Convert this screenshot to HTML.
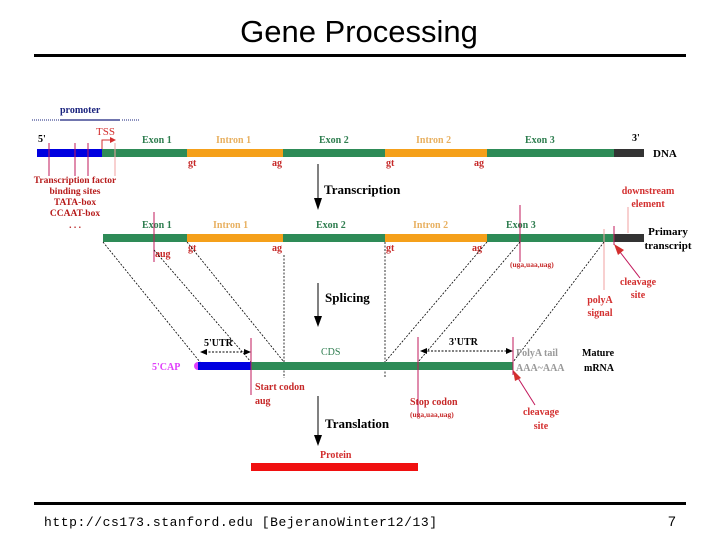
<!DOCTYPE html>
<html><head><style>
body{margin:0;background:#fff;}
svg text{font-family:"Liberation Serif",serif;font-weight:bold;}
</style></head><body>
<svg width="720" height="540" viewBox="0 0 720 540" xmlns="http://www.w3.org/2000/svg">
<text x="359" y="42" text-anchor="middle" style="font-family:'Liberation Sans',sans-serif;font-weight:normal" font-size="31">Gene Processing</text>
<rect x="34" y="54" width="652" height="3" fill="#000"/>
<rect x="34" y="502" width="652" height="3" fill="#000"/>
<text x="44" y="526" style="font-family:'Liberation Mono',monospace;font-weight:normal" font-size="13" textLength="393" lengthAdjust="spacing">http://cs173.stanford.edu [BejeranoWinter12/13]</text>
<text x="668" y="526" style="font-family:'Liberation Sans',sans-serif;font-weight:normal" font-size="14">7</text>

<!-- promoter -->
<text x="60" y="113" fill="#1a237e" font-size="10">promoter</text>
<line x1="32" y1="120" x2="60" y2="120" stroke="#1a237e" stroke-dasharray="1,1"/>
<line x1="60" y1="120" x2="120" y2="120" stroke="#1a237e" stroke-width="1.2"/>
<line x1="122" y1="120" x2="140" y2="120" stroke="#1a237e" stroke-dasharray="1,1"/>
<text x="38" y="142" font-size="10">5'</text>
<text x="96" y="135" fill="#d32f2f" font-size="11" style="font-weight:normal">TSS</text>
<path d="M102 149 V140 H110" stroke="#d32f2f" fill="none"/>
<path d="M110 137 L116 140 L110 143Z" fill="#d32f2f"/>

<!-- DNA bar -->
<g>
<rect x="37" y="149" width="65" height="8" fill="#0000e0"/>
<rect x="102" y="149" width="85" height="8" fill="#2e8b57"/>
<rect x="187" y="149" width="96" height="8" fill="#f5a01a"/>
<rect x="283" y="149" width="102" height="8" fill="#2e8b57"/>
<rect x="385" y="149" width="102" height="8" fill="#f5a01a"/>
<rect x="487" y="149" width="127" height="8" fill="#2e8b57"/>
<rect x="614" y="149" width="30" height="8" fill="#333"/>
</g>
<g stroke="#c2185b" stroke-width="1">
<line x1="49" y1="143" x2="49" y2="176"/><line x1="75" y1="143" x2="75" y2="176"/><line x1="88" y1="143" x2="88" y2="176"/><line x1="115" y1="143" x2="115" y2="176" stroke="#f0a0a0"/>
</g>
<g font-size="10" fill="#2e7d4f"><text x="142" y="143">Exon 1</text><text x="319" y="143">Exon 2</text><text x="525" y="143">Exon 3</text></g>
<g font-size="10" fill="#e8b060"><text x="216" y="143">Intron 1</text><text x="416" y="143">Intron 2</text></g>
<g font-size="10" fill="#c62828"><text x="188" y="166">gt</text><text x="272" y="166">ag</text><text x="386" y="166">gt</text><text x="474" y="166">ag</text></g>
<text x="632" y="141" font-size="10">3'</text>
<text x="653" y="157" font-size="11">DNA</text>
<g font-size="9.5" fill="#b71c1c" text-anchor="middle"><text x="75" y="183">Transcription factor</text><text x="75" y="194">binding sites</text><text x="75" y="205">TATA-box</text><text x="75" y="216">CCAAT-box</text><text x="75" y="228">. . .</text></g>

<!-- transcription arrow -->
<line x1="318" y1="164" x2="318" y2="200" stroke="#000"/>
<path d="M314 198 L318 210 L322 198Z" fill="#000"/>
<text x="324" y="194" font-size="13">Transcription</text>
<g font-size="10" fill="#d32f2f" text-anchor="middle"><text x="648" y="194">downstream</text><text x="648" y="207">element</text></g>
<line x1="628" y1="207" x2="628" y2="233" stroke="#f0a0a0"/>

<!-- primary transcript -->
<rect x="103" y="234" width="84" height="8" fill="#2e8b57"/>
<rect x="187" y="234" width="96" height="8" fill="#f5a01a"/>
<rect x="283" y="234" width="102" height="8" fill="#2e8b57"/>
<rect x="385" y="234" width="102" height="8" fill="#f5a01a"/>
<rect x="487" y="234" width="127" height="8" fill="#2e8b57"/>
<rect x="614" y="234" width="30" height="8" fill="#333"/>
<g font-size="10" fill="#2e7d4f"><text x="142" y="228">Exon 1</text><text x="316" y="228">Exon 2</text><text x="506" y="228">Exon 3</text></g>
<g font-size="10" fill="#e8b060"><text x="213" y="228">Intron 1</text><text x="413" y="228">Intron 2</text></g>
<g font-size="10" fill="#c62828"><text x="188" y="251">gt</text><text x="272" y="251">ag</text><text x="386" y="251">gt</text><text x="472" y="251">ag</text><text x="155" y="257">aug</text></g>
<text x="510" y="267" font-size="7.5" fill="#c62828">(uga,uaa,uag)</text>
<line x1="154" y1="212" x2="154" y2="262" stroke="#c2185b"/>
<line x1="520" y1="205" x2="520" y2="262" stroke="#c2185b"/>
<line x1="604" y1="229" x2="604" y2="290" stroke="#f0a0a0"/>
<line x1="614" y1="226" x2="614" y2="245" stroke="#c2185b"/>
<text x="668" y="235" font-size="11" text-anchor="middle">Primary</text>
<text x="668" y="249" font-size="11" text-anchor="middle">transcript</text>
<line x1="640" y1="278" x2="620" y2="252" stroke="#c2185b"/>
<path d="M614 244 L624 250 L618 255Z" fill="#d32f2f"/>
<g font-size="10" fill="#d32f2f" text-anchor="middle"><text x="638" y="285">cleavage</text><text x="638" y="298">site</text><text x="600" y="303">polyA</text><text x="600" y="316">signal</text></g>

<!-- dashed connectors -->
<g stroke="#000" stroke-width="0.8" stroke-dasharray="2,1.5" fill="none">
<line x1="103" y1="242" x2="200" y2="362"/>
<line x1="154" y1="250" x2="251" y2="362"/>
<line x1="187" y1="242" x2="284" y2="362"/>
<line x1="284" y1="255" x2="284" y2="378"/>
<line x1="385" y1="242" x2="385" y2="378"/>
<line x1="487" y1="242" x2="385" y2="362"/>
<line x1="520" y1="242" x2="418" y2="362"/>
<line x1="604" y1="242" x2="513" y2="362"/>
</g>

<!-- splicing -->
<line x1="318" y1="283" x2="318" y2="318" stroke="#000"/>
<path d="M314 316 L318 327 L322 316Z" fill="#000"/>
<text x="325" y="302" font-size="13">Splicing</text>

<!-- mRNA -->
<circle cx="198" cy="366" r="4" fill="#e040fb"/>
<rect x="198" y="362" width="53" height="8" fill="#0000e0"/>
<rect x="251" y="362" width="262" height="8" fill="#2e8b57"/>
<text x="152" y="370" font-size="10" fill="#e040fb">5'CAP</text>
<text x="321" y="355" font-size="10" fill="#2e7d4f" style="font-weight:normal">CDS</text>
<text x="204" y="346" font-size="10">5'UTR</text>
<text x="449" y="345" font-size="10">3'UTR</text>
<g stroke="#000" stroke-dasharray="2,1.5"><line x1="205" y1="352" x2="249" y2="352"/><line x1="424" y1="351" x2="510" y2="351"/></g>
<path d="M200 352 L207 349 L207 355Z M251 352 L244 349 L244 355Z M420 351 L427 348 L427 354Z M513 351 L506 348 L506 354Z" fill="#000"/>
<line x1="251" y1="338" x2="251" y2="395" stroke="#c2185b"/>
<line x1="418" y1="337" x2="418" y2="417" stroke="#c2185b"/>
<line x1="513" y1="337" x2="513" y2="375" stroke="#c2185b"/>
<g font-size="10" fill="#999" style="font-weight:normal"><text x="516" y="356">PolyA tail</text><text x="516" y="371">AAA~AAA</text></g>
<text x="582" y="356" font-size="10">Mature</text>
<text x="584" y="371" font-size="10">mRNA</text>
<g font-size="10" fill="#c62828"><text x="255" y="390">Start codon</text><text x="255" y="404">aug</text><text x="410" y="405">Stop codon</text></g>
<text x="410" y="417" font-size="7.5" fill="#c62828">(uga,uaa,uag)</text>
<line x1="535" y1="405" x2="518" y2="378" stroke="#c2185b"/>
<path d="M513 370 L521 378 L515 381Z" fill="#d32f2f"/>
<g font-size="10" fill="#d32f2f" text-anchor="middle"><text x="541" y="415">cleavage</text><text x="541" y="429">site</text></g>

<!-- translation -->
<line x1="318" y1="396" x2="318" y2="437" stroke="#000"/>
<path d="M314 435 L318 446 L322 435Z" fill="#000"/>
<text x="325" y="428" font-size="13">Translation</text>
<text x="320" y="458" font-size="10" fill="#d32f2f">Protein</text>
<rect x="251" y="463" width="167" height="8" fill="#f01010"/>
</svg>
</body></html>
